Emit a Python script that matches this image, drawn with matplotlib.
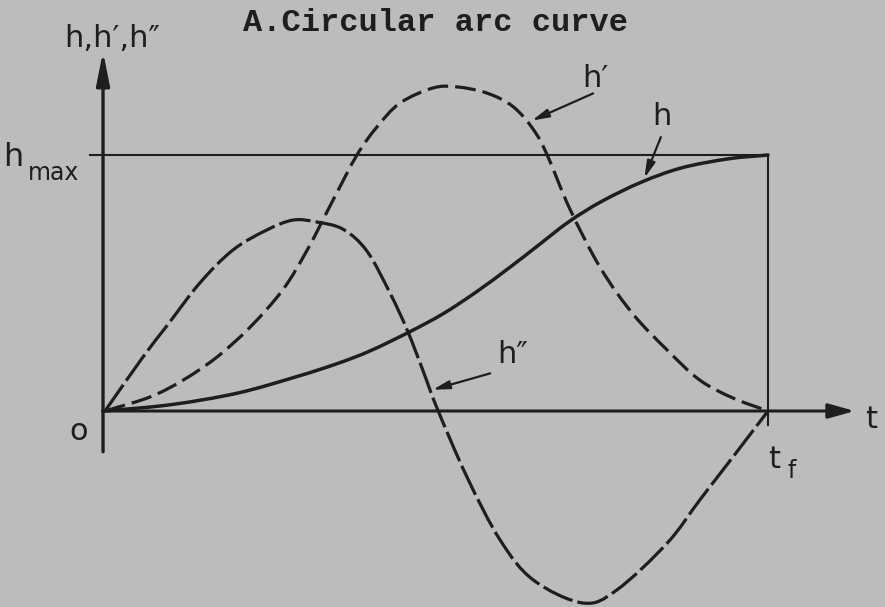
import numpy as np
import matplotlib.pyplot as plt
from matplotlib.path import Path
from matplotlib.patches import PathPatch

# time as a fraction of t_f, heights as a fraction of h_max
t_h = [0, 0.10, 0.20, 0.29, 0.35, 0.40, 0.46, 0.51, 0.56, 0.61, 0.65, 0.70,
       0.75, 0.81, 0.87, 0.94, 1.0]
h = [0, 0.025, 0.07, 0.135, 0.185, 0.235, 0.31, 0.38, 0.465, 0.56, 0.64,
     0.74, 0.82, 0.895, 0.95, 0.985, 1.0]

t_h1 = [0, 0.068, 0.118, 0.169, 0.219, 0.268, 0.305, 0.344, 0.380, 0.410,
        0.445, 0.495, 0.531, 0.576, 0.615, 0.646, 0.667, 0.701, 0.747, 0.796,
        0.848, 0.897, 0.947, 1.0]
h1 = [0, 0.055, 0.121, 0.211, 0.328, 0.473, 0.629, 0.824, 1.0, 1.109,
      1.203, 1.262, 1.266, 1.242, 1.19, 1.10, 1.0, 0.79, 0.56, 0.38,
      0.238, 0.121, 0.051, 0]

t_h2 = [0, 0.057, 0.094, 0.143, 0.193, 0.244, 0.284, 0.320, 0.359, 0.395,
        0.430, 0.456, 0.480, 0.501, 0.546, 0.596, 0.646, 0.721, 0.772, 0.848,
        0.897, 0.947, 1.0]
h2 = [0, 0.21, 0.335, 0.50, 0.629, 0.707, 0.746, 0.738, 0.71, 0.625,
      0.46, 0.315, 0.155, 0.01, -0.258, -0.504, -0.660, -0.750, -0.699,
      -0.516, -0.348, -0.180, 0]

bg = '#bcbcbc'
ink = '#1e1e1e'


def smooth_path(xs, ys):
    # Catmull-Rom through the points, written as cubic Bezier segments
    p = np.column_stack([xs, ys]).astype(float)
    ext = np.vstack([2 * p[0] - p[1], p, 2 * p[-1] - p[-2]])
    verts = [p[0]]
    codes = [Path.MOVETO]
    for i in range(1, len(ext) - 2):
        p0, p1, p2, p3 = ext[i - 1], ext[i], ext[i + 1], ext[i + 2]
        verts += [p1 + (p2 - p0) / 6, p2 - (p3 - p1) / 6, p2]
        codes += [Path.CURVE4] * 3
    return Path(verts, codes)


fig = plt.figure(figsize=(8.85, 6.07), dpi=100, facecolor=bg)
ax = fig.add_axes([0, 0, 1, 1])
ax.set_facecolor(bg)
ax.set_xlim(-0.1584, 1.1765)
ax.set_ylim(-0.7656, 1.6055)
ax.axis('off')

# axes with arrow heads
ax.annotate('', xy=(1.135, 0), xytext=(-0.008, 0),
            arrowprops=dict(arrowstyle='-|>,head_length=1.6,head_width=0.45',
                            color=ink, lw=2.2))
ax.annotate('', xy=(-0.003, 1.415), xytext=(-0.003, -0.17),
            arrowprops=dict(arrowstyle='-|>,head_length=2.0,head_width=0.4',
                            color=ink, lw=2.4))

# h_max line and t_f line
ax.plot([-0.023, 1.0], [1, 1], color=ink, lw=1.5)
ax.plot([1.0, 1.0], [1, -0.055], color=ink, lw=1.5)

ax.add_patch(PathPatch(smooth_path(t_h, h), fill=False, edgecolor=ink,
                       lw=2.5, capstyle='round'))
ax.add_patch(PathPatch(smooth_path(t_h1, h1), fill=False, edgecolor=ink,
                       lw=2.3, linestyle=(0, (6.5, 2.2))))
ax.add_patch(PathPatch(smooth_path(t_h2, h2), fill=False, edgecolor=ink,
                       lw=2.3, linestyle=(0, (10, 1.6))))

# curve labels with leader arrows
hand = dict(color=ink, fontsize=22, family='DejaVu Sans')
ax.text(0.74, 1.30, "h′", ha='center', va='center', **hand)
ax.annotate('', xy=(0.640, 1.13), xytext=(0.740, 1.245),
            arrowprops=dict(arrowstyle='-|>,head_length=1.0,head_width=0.25',
                            color=ink, lw=1.6))
ax.text(0.84, 1.15, "h", ha='center', va='center', **hand)
ax.annotate('', xy=(0.812, 0.90), xytext=(0.84, 1.08),
            arrowprops=dict(arrowstyle='-|>,head_length=1.0,head_width=0.25',
                            color=ink, lw=1.6))
ax.text(0.615, 0.22, "h″", ha='center', va='center', **hand)
ax.annotate('', xy=(0.49, 0.08), xytext=(0.585, 0.15),
            arrowprops=dict(arrowstyle='-|>,head_length=1.0,head_width=0.25',
                            color=ink, lw=1.6))

ax.text(0.011, 1.455, "h,h′,h″", ha='center', va='center', **hand)
ax.text(-0.153, 0.99, "h", ha='left', va='center', color=ink,
        fontsize=23, family='DejaVu Sans')
ax.text(-0.117, 0.93, "max", ha='left', va='center', color=ink,
        fontsize=17, family='DejaVu Sans')
ax.text(-0.04, -0.08, "o", ha='center', va='center', **hand)
ax.text(1.155, -0.035, "t", ha='center', va='center', **hand)
ax.text(1.01, -0.19, "t", ha='center', va='center', **hand)
ax.text(1.035, -0.235, "f", ha='center', va='center', color=ink,
        fontsize=17, family='DejaVu Sans')

ax.text(0.499, 1.516, "A.Circular arc curve", ha='center', va='center',
        color=ink, fontsize=23, family='Liberation Mono', fontweight='bold')

fig.savefig('out.png', dpi=100, facecolor=bg)
